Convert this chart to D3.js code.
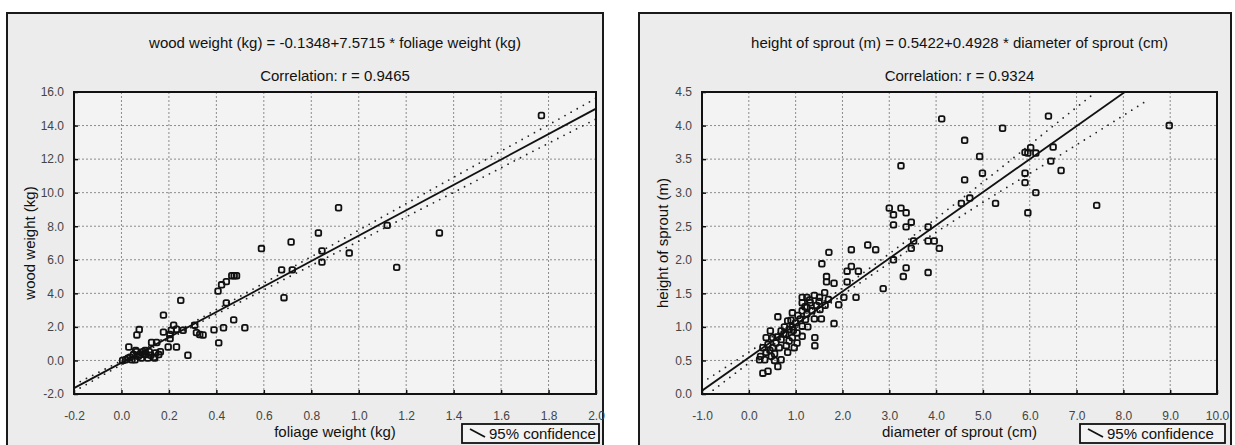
<!DOCTYPE html>
<html>
<head>
<meta charset="utf-8">
<script src="https://cdn.jsdelivr.net/npm/d3@7"></script>
<style>
body { margin: 0; background: #fff; }
svg text { font-family: Arial, "Liberation Sans", sans-serif; }
</style>
</head>
<body>
<script>
// ---- left chart: wood weight vs foliage weight ----
var woodPoints = [
  [1.77, 14.6], [0.915, 9.1], [0.83, 7.6], [0.715, 7.06], [0.59, 6.67], [1.12, 8.05],
  [1.34, 7.6], [0.845, 6.53], [0.845, 5.86], [0.96, 6.4], [1.16, 5.55], [0.675, 5.4],
  [0.72, 5.4], [0.685, 3.74],
  [0.465, 5.05], [0.475, 5.05], [0.485, 5.05], [0.442, 4.7], [0.422, 4.51], [0.407, 4.13],
  [0.25, 3.58], [0.442, 3.43], [0.177, 2.7], [0.473, 2.42], [0.52, 1.95], [0.43, 1.95],
  [0.39, 1.82], [0.075, 1.84], [0.065, 1.52], [0.22, 2.1], [0.21, 1.8], [0.232, 1.86],
  [0.26, 1.8], [0.309, 2.1], [0.316, 1.66], [0.33, 1.55], [0.344, 1.52], [0.177, 1.69],
  [0.204, 1.55], [0.41, 1.05], [0.197, 0.8], [0.232, 0.8], [0.205, 1.3], [0.28, 0.31],
  [0.127, 1.07], [0.148, 1.07], [0.031, 0.8],
  [0.017, 0.04], [0.028, 0.14], [0.037, 0.19], [0.044, 0.04], [0.051, 0.35], [0.057, 0.04],
  [0.064, 0.52], [0.071, 0.25], [0.077, 0.35], [0.084, 0.14], [0.091, 0.52], [0.097, 0.35],
  [0.104, 0.35], [0.111, 0.14], [0.117, 0.52], [0.124, 0.31], [0.137, 0.19], [0.144, 0.45],
  [0.157, 0.35], [0.164, 0.52], [0.14, 0.14], [0.005, 0.0], [0.06, 0.6], [0.1, 0.6]
];
var woodTicksX = [-0.2, 0.0, 0.2, 0.4, 0.6, 0.8, 1.0, 1.2, 1.4, 1.6, 1.8, 2.0];
var woodTicksY = [-2, 0, 2, 4, 6, 8, 10, 12, 14, 16];
var woodFit = [-0.1348, 7.5715];   // intercept, slope
var woodBandX = [-0.2, 0.1, 0.6, 1.0, 1.4, 1.8, 2.0];
var woodBandHalf = [0.2, 0.1, 0.2, 0.33, 0.45, 0.55, 0.62];

// ---- right chart: sprout height vs sprout diameter ----
var sproutPoints = [
  [2.54, 2.22], [2.71, 2.15], [2.19, 2.15], [1.71, 2.11], [1.56, 1.94], [2.19, 1.9],
  [2.1, 1.83], [2.34, 1.83], [1.66, 1.75], [1.66, 1.67], [1.82, 1.65], [2.1, 1.67],
  [2.87, 1.57], [2.29, 1.44], [2.03, 1.44], [1.92, 1.33], [1.82, 1.05],
  [1.14, 1.44], [1.24, 1.44], [1.4, 1.47], [1.51, 1.44], [1.62, 1.51], [1.7, 1.41],
  [1.14, 1.36], [1.31, 1.36], [1.45, 1.32], [1.63, 1.32], [1.24, 1.29], [1.14, 1.24],
  [1.35, 1.24], [1.52, 1.26], [0.93, 1.21], [1.24, 1.19], [1.1, 1.12], [1.4, 1.12],
  [1.55, 1.12], [1.21, 1.11], [0.62, 1.15], [0.83, 1.09], [1.0, 1.06], [0.93, 1.0],
  [1.14, 1.01], [1.26, 1.0], [0.76, 1.0], [0.86, 0.96], [0.46, 0.94], [0.69, 0.94],
  [0.79, 0.89], [1.03, 0.91], [1.14, 0.86], [0.93, 0.84], [0.37, 0.84], [0.51, 0.84],
  [1.41, 0.84], [0.69, 0.81], [0.86, 0.79], [1.03, 0.76], [1.41, 0.72], [0.58, 0.76],
  [0.41, 0.74], [0.3, 0.69], [0.51, 0.69], [0.65, 0.69], [0.97, 0.69], [0.37, 0.62],
  [0.83, 0.62], [0.55, 0.6], [0.25, 0.56], [0.48, 0.56], [0.69, 0.51], [0.34, 0.51],
  [0.23, 0.51], [0.62, 0.41], [0.3, 0.31], [0.41, 0.34],
  [1.2, 1.3], [1.05, 1.17], [0.9, 1.1], [0.75, 0.9], [0.6, 0.85], [0.45, 0.65],
  [0.55, 0.5], [0.8, 0.72], [1.3, 1.4], [1.5, 1.38], [0.95, 0.95],
  [4.12, 4.1], [6.4, 4.14], [5.42, 3.96], [4.61, 3.78], [4.93, 3.54], [3.25, 3.4],
  [5.9, 3.6], [5.96, 3.59], [6.02, 3.67], [6.13, 3.59], [6.5, 3.68], [6.45, 3.47],
  [6.67, 3.33], [4.99, 3.29], [4.61, 3.19], [5.9, 3.29], [5.9, 3.15], [6.13, 3.0],
  [5.27, 2.84], [4.72, 2.92], [4.54, 2.84], [5.96, 2.7], [7.43, 2.81], [3.0, 2.77],
  [3.25, 2.77], [3.09, 2.67], [3.36, 2.7], [3.47, 2.56], [3.09, 2.52], [3.36, 2.49],
  [3.83, 2.49], [3.52, 2.28], [3.83, 2.28], [3.96, 2.28], [3.47, 2.17], [4.07, 2.17],
  [3.09, 2.0], [3.36, 1.88], [3.3, 1.75], [3.83, 1.81], [8.98, 4.0]
];
var sproutTicksX = [-1, 0, 1, 2, 3, 4, 5, 6, 7, 8, 9, 10];
var sproutTicksY = [0, 0.5, 1, 1.5, 2, 2.5, 3, 3.5, 4, 4.5];
var sproutFit = [0.5422, 0.4928];
var sproutBandX = [-1, 1.5, 3, 5, 7, 8.5];
var sproutBandHalf = [0.12, 0.05, 0.07, 0.15, 0.28, 0.36];

var svg = d3.select("body").append("svg")
    .attr("width", 1235)
    .attr("height", 445);

var fmt = function(d) { return d.toFixed(1); };

function panel(o) {
    var frame = svg.append("g");
    frame.append("rect")
        .attr("x", o.fx).attr("y", o.fy)
        .attr("width", o.fw).attr("height", o.fh)
        .attr("fill", "#ececec")
        .attr("stroke", "#1a1a1a")
        .attr("stroke-width", 2);

    var w = o.pw, h = o.ph;
    var g = svg.append("g").attr("transform", "translate(" + o.px + "," + o.py + ")");

    var x = d3.scaleLinear().domain(o.xDomain).range([0, w]);
    var y = d3.scaleLinear().domain(o.yDomain).range([h, 0]);

    g.append("rect").attr("width", w).attr("height", h).attr("fill", "#f3f3f3");

    var clipId = "clip" + o.id;
    g.append("clipPath").attr("id", clipId)
      .append("rect").attr("width", w).attr("height", h);

    // dotted grid
    var grid = g.append("g");
    grid.selectAll(".gx")
        .data(o.ticksX.slice(1, -1))
        .enter().append("line")
        .attr("x1", function(d) { return x(d); }).attr("x2", function(d) { return x(d); })
        .attr("y1", 0).attr("y2", h)
        .attr("stroke", "#8c8c8c").attr("stroke-dasharray", "2,2");
    grid.selectAll(".gy")
        .data(o.ticksY.slice(1, -1))
        .enter().append("line")
        .attr("y1", function(d) { return y(d); }).attr("y2", function(d) { return y(d); })
        .attr("x1", 0).attr("x2", w)
        .attr("stroke", "#8c8c8c").attr("stroke-dasharray", "2,2");

    // axes
    var ax = g.append("g").attr("transform", "translate(0," + h + ")")
        .call(d3.axisBottom(x).tickValues(o.ticksX).tickSize(-4).tickPadding(17).tickFormat(fmt));
    var ay = g.append("g")
        .call(d3.axisLeft(y).tickValues(o.ticksY).tickSize(-4).tickPadding(10).tickFormat(fmt));
    [ax, ay].forEach(function(a) {
        a.select(".domain").remove();
        a.selectAll("line").attr("stroke", "#111").attr("stroke-width", 1.5);
        a.selectAll("text").attr("font-size", 12).attr("fill", "#444")
            .attr("font-family", "Arial, 'Liberation Sans', sans-serif");
    });

    var body = g.append("g").attr("clip-path", "url(#" + clipId + ")");

    // confidence bands
    var band = d3.line().curve(d3.curveMonotoneX)
        .x(function(d) { return x(d[0]); })
        .y(function(d) { return y(d[1]); });
    [1, -1].forEach(function(s) {
        var pts = o.bandX.map(function(bx, i) {
            return [bx, o.fit[0] + o.fit[1] * bx + s * o.bandHalf[i]];
        });
        body.append("path")
            .attr("d", band(pts))
            .attr("fill", "none")
            .attr("stroke", "#222")
            .attr("stroke-width", 1.8)
            .attr("stroke-linecap", "round")
            .attr("stroke-dasharray", "0,7");
    });

    // regression line
    var ends = o.xDomain.map(function(d) { return [d, o.fit[0] + o.fit[1] * d]; });
    body.append("path")
        .attr("d", band(ends))
        .attr("fill", "none")
        .attr("stroke", "#111")
        .attr("stroke-width", 1.8);

    // points
    body.selectAll(".pt")
        .data(o.points)
        .enter().append("rect")
        .attr("x", function(d) { return x(d[0]) - 2.8; })
        .attr("y", function(d) { return y(d[1]) - 2.8; })
        .attr("width", 5.6).attr("height", 5.6)
        .attr("rx", 1.6)
        .attr("fill", "none")
        .attr("stroke", "#111")
        .attr("stroke-width", 1.8);

    // plot border
    g.append("rect").attr("width", w).attr("height", h)
        .attr("fill", "none").attr("stroke", "#111").attr("stroke-width", 2);

    // titles
    var cx = o.px + w / 2;
    svg.append("text").attr("x", cx).attr("y", 48)
        .attr("text-anchor", "middle").attr("font-size", 15).attr("fill", "#111")
        .text(o.title);
    svg.append("text").attr("x", cx).attr("y", 81)
        .attr("text-anchor", "middle").attr("font-size", 15).attr("fill", "#111")
        .text(o.corr);
    svg.append("text").attr("x", cx).attr("y", 437)
        .attr("text-anchor", "middle").attr("font-size", 15).attr("fill", "#111")
        .text(o.xLabel);
    svg.append("text")
        .attr("transform", "translate(" + o.yLabelX + "," + (o.py + h / 2) + ") rotate(-90)")
        .attr("text-anchor", "middle").attr("font-size", 15).attr("fill", "#111")
        .text(o.yLabel);

    // legend
    var lg = svg.append("g").attr("transform", "translate(" + o.legendX + ",424)");
    lg.append("rect").attr("width", o.legendW).attr("height", 19)
        .attr("fill", "#f3f3f3").attr("stroke", "#111").attr("stroke-width", 1.8);
    lg.append("line").attr("x1", 8).attr("y1", 5).attr("x2", 23).attr("y2", 13)
        .attr("stroke", "#111").attr("stroke-width", 1.8);
    lg.append("text").attr("x", 27).attr("y", 15).attr("font-size", 15).attr("fill", "#111")
        .text("95% confidence");
}

panel({
    id: "a", fx: 7, fy: 13, fw: 596, fh: 450,
    px: 74, py: 92, pw: 522, ph: 302,
    xDomain: [-0.2, 2.0], yDomain: [-2, 16],
    ticksX: woodTicksX, ticksY: woodTicksY,
    points: woodPoints, fit: woodFit, bandX: woodBandX, bandHalf: woodBandHalf,
    title: "wood weight (kg) = -0.1348+7.5715 * foliage weight (kg)",
    corr: "Correlation: r = 0.9465",
    xLabel: "foliage weight (kg)", yLabel: "wood weight (kg)", yLabelX: 35,
    legendX: 462, legendW: 137
});

panel({
    id: "b", fx: 639, fy: 13, fw: 592, fh: 450,
    px: 702, py: 92, pw: 515, ph: 302,
    xDomain: [-1, 10], yDomain: [0, 4.5],
    ticksX: sproutTicksX, ticksY: sproutTicksY,
    points: sproutPoints, fit: sproutFit, bandX: sproutBandX, bandHalf: sproutBandHalf,
    title: "height of sprout (m) = 0.5422+0.4928 * diameter of sprout (cm)",
    corr: "Correlation: r = 0.9324",
    xLabel: "diameter of sprout (cm)", yLabel: "height of sprout (m)", yLabelX: 668,
    legendX: 1080, legendW: 145
});
</script>
</body>
</html>
